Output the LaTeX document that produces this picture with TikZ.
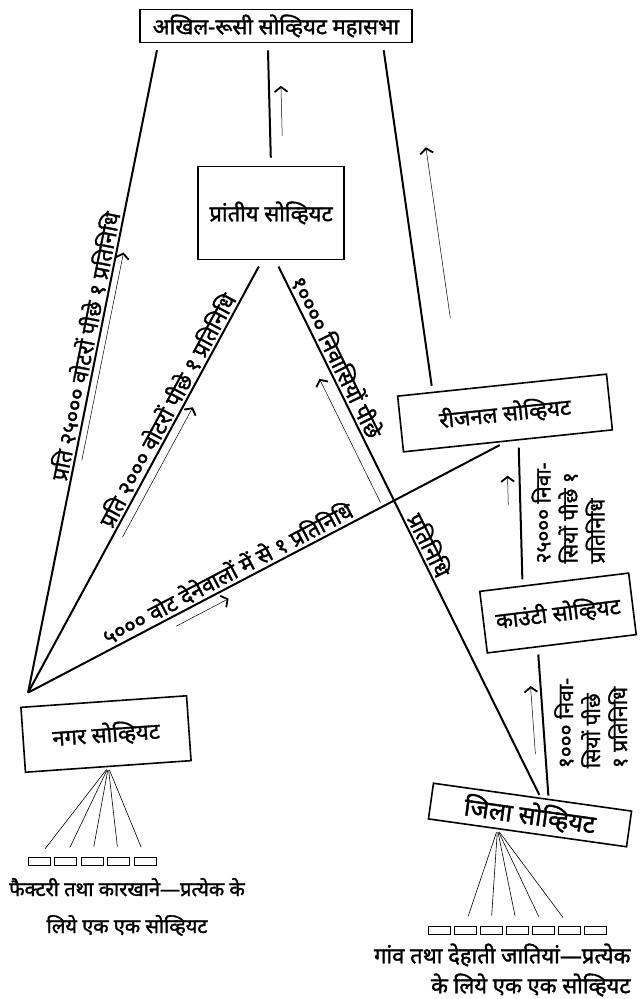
\documentclass[tikz,border=0pt]{standalone}
\usepackage{fontspec}
\setmainfont{Noto Sans}[Script=Devanagari,AutoFakeBold=1.6]
\usetikzlibrary{arrows.meta,calc}

\begin{document}
\begin{tikzpicture}[x=1pt,y=-1pt,font=\bfseries\fontsize{22}{26}\selectfont,
  sov/.style={draw,line width=1.6pt,inner sep=2pt},
  link/.style={line width=2pt,shorten >=7pt},
  up/.style={line width=0.5pt,-{Straight Barb[length=5pt,width=13pt,line width=1.8pt]}},
  lab/.style={sloped,above,inner sep=2pt,font=\bfseries\fontsize{22}{26}\selectfont},
  vlab/.style={midway,rotate=90,anchor=north,align=left,inner xsep=0pt,inner ysep=10pt,
    font=\bfseries\fontsize{21}{27}\selectfont},
  fan/.style={line width=0.6pt,shorten <=3pt,shorten >=10pt},
  cell/.style={draw,line width=0.8pt,minimum width=22pt,minimum height=8pt,inner sep=0pt}]
\useasboundingbox (0,0) rectangle (640,999);
% soviets
\node[sov,minimum width=272,minimum height=33] (AR) at (276,26) {अखिल-रूसी सोव्हियट महासभा};
\node[sov,minimum width=146,minimum height=93] (PR) at (271,213) {प्रांतीय सोव्हियट};
\node[sov,minimum width=210,minimum height=56,rotate=6] (RG) at (505,413) {रीजनल सोव्हियट};
\node[sov,minimum width=150,minimum height=62,rotate=7] (CT) at (558,613) {काउंटी सोव्हियट};
\node[sov,minimum width=166,minimum height=65,rotate=4] (NG) at (106,734) {नगर सोव्हियट};
\node[sov,minimum width=200,minimum height=36,rotate=-8,font=\bfseries\fontsize{25}{28}\selectfont]
  (JL) at (530,815) {जिला सोव्हियट};
% end points on the boxes
\coordinate (ng) at ($(NG.north west)+(8,-14)$);
\coordinate (ar1) at ($(AR.south west)!.07!(AR.south east)$);
\coordinate (ar2) at ($(AR.south west)!.47!(AR.south east)$);
\coordinate (ar3) at ($(AR.south west)!.89!(AR.south east)$);
\coordinate (pr1) at (PR.north);
\coordinate (pr2) at ($(PR.south west)!.44!(PR.south east)$);
\coordinate (pr3) at ($(PR.south west)!.53!(PR.south east)$);
\coordinate (rg1) at ($(RG.north west)!.17!(RG.north east)$);
\coordinate (rg2) at ($(RG.south west)!.49!(RG.south east)$);
\coordinate (rg3) at ($(RG.south west)!.55!(RG.south east)$);
\coordinate (ct1) at ($(CT.north west)!.29!(CT.north east)$);
\coordinate (ct2) at ($(CT.south west)!.34!(CT.south east)$);
\coordinate (jl1) at ($(JL.north west)!.54!(JL.north east)$);
\coordinate (jl2) at ($(JL.north west)!.58!(JL.north east)$);
\coordinate (jf) at ($(JL.south west)!.35!(JL.south east)$);
% delegations
\draw[link] (ng) -- node[lab,pos=.53] {प्रति २५००० वोटरों पीछे १ प्रतिनिधि} (ar1);
\draw[link] (ng) -- node[lab,pos=.64] {प्रति २००० वोटरों पीछे १ प्रतिनिधि} (pr2);
\draw[link] (ng) -- node[lab,pos=.43] {५००० वोट देनेवालों में से १ प्रतिनिधि} (rg2);
\draw[link,shorten <=3pt] (jl1) -- node[lab,pos=.81] {१०००० निवासियों पीछे}
  node[lab,pos=.46] {प्रतिनिधि} (pr3);
\draw[link,shorten <=6pt] (rg1) -- (ar3);
\draw[link,shorten <=8pt] (pr1) -- (ar2);
\draw[link,shorten <=6pt] (ct1) -- node[vlab] {२५००० निवा-\\सियों पीछे १\\प्रतिनिधि} (rg3);
\draw[link,shorten <=3pt] (jl2) -- node[vlab] {१००० निवा-\\सियों पीछे\\१ प्रतिनिधि} (ct2);
% upward marks
\foreach \a/\b/\s/\e/\d/\r in {ng/ar1/.36/.68/7pt/-90, ng/pr2/.37/.67/9pt/-90,
    ng/rg2/.30/.41/10pt/-90, jl1/pr3/.56/.79/13pt/90, rg1/ar3/.2/.69/28pt/-90,
    pr1/ar2/.24/.65/12pt/-90, ct1/rg3/.56/.76/12pt/90, jl2/ct2/.3/.75/10pt/90}
  \draw[up] ($(\a)!\s!(\b)!\d!\r:(\b)$) -- ($(\a)!\e!(\b)!\d!\r:(\b)$);
% local soviets
\foreach \i in {1,...,5} {
  \node[cell] (f\i) at ({39+26.5*(\i-1)},861) {};
  \draw[fan] (NG.south) -- (f\i.north);
}
\foreach \i in {1,...,7}
  \node[cell] (g\i) at ({439+26*(\i-1)},930) {};
\foreach \i in {2,...,6}
  \draw[fan] (jf) -- (g\i.north);
\node[align=center,font=\bfseries\fontsize{20}{37}\selectfont] (ft) at (127,907)
  {फैक्टरी तथा कारखाने—प्रत्येक के\\लिये एक एक सोव्हियट};
\node[align=right,anchor=east,font=\bfseries\fontsize{22}{30}\selectfont] (vt) at (634,970)
  {गांव तथा देहाती जातियां—प्रत्येक\\के लिये एक एक सोव्हियट};
\end{tikzpicture}
\end{document}
